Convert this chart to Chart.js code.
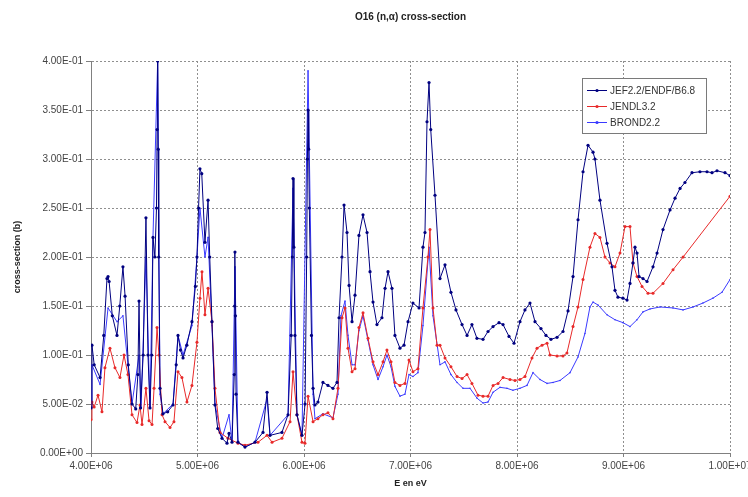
<!DOCTYPE html>
<html>
<head>
<meta charset="utf-8">
<script src="https://cdn.jsdelivr.net/npm/chart.js@4.4.1/dist/chart.umd.min.js"></script>
<style>
  html, body { margin: 0; padding: 0; background: #fff; }
  #wrap { width: 748px; height: 497px; }
</style>
</head>
<body>
<div id="wrap"><canvas id="xsChart" width="748" height="497"></canvas></div>
<script>
// energies in MeV, cross-sections in barn
const jefE = [4.000, 4.009, 4.030, 4.085, 4.120, 4.150, 4.160, 4.170, 4.200, 4.244, 4.270, 4.300, 4.320, 4.350,
  4.385, 4.420, 4.440, 4.451, 4.465, 4.490, 4.516, 4.535, 4.554, 4.570, 4.582, 4.600, 4.615, 4.621, 4.626, 4.631, 4.636, 4.648,
  4.676, 4.720, 4.770, 4.800, 4.817, 4.840, 4.864, 4.900, 4.948, 4.980, 4.995, 5.010, 5.023, 5.040, 5.070, 5.099,
  5.115, 5.136, 5.164, 5.190, 5.230, 5.277, 5.296, 5.324, 5.345, 5.349, 5.352, 5.356, 5.362, 5.380, 5.446, 5.540, 5.615, 5.653,
  5.681, 5.793, 5.850, 5.880, 5.890, 5.897, 5.905, 5.915, 5.934, 5.981, 6.010, 6.025, 6.032, 6.038, 6.044, 6.050, 6.070, 6.085, 6.103, 6.131,
  6.178, 6.225, 6.272, 6.310, 6.329, 6.357, 6.376, 6.404, 6.423, 6.451, 6.479, 6.516, 6.554, 6.592, 6.620, 6.648,
  6.685, 6.732, 6.761, 6.789, 6.826, 6.854, 6.901, 6.939, 6.977, 7.023, 7.080, 7.117, 7.136, 7.155, 7.174, 7.190,
  7.230, 7.277, 7.324, 7.380, 7.427, 7.484, 7.531, 7.577, 7.624, 7.681, 7.728, 7.775, 7.831, 7.869, 7.925, 7.972,
  8.028, 8.075, 8.122, 8.169, 8.225, 8.272, 8.319, 8.376, 8.432, 8.479, 8.526, 8.573, 8.620, 8.667, 8.714, 8.732,
  8.779, 8.845, 8.892, 8.920, 8.948, 8.995, 9.033, 9.061, 9.089, 9.108, 9.127, 9.146, 9.183, 9.221, 9.277, 9.315,
  9.371, 9.437, 9.484, 9.531, 9.577, 9.643, 9.718, 9.784, 9.831, 9.878, 9.953, 10.000];
const jefXS = [0.046, 0.110, 0.090, 0.077, 0.120, 0.178, 0.180, 0.175, 0.140, 0.120, 0.150, 0.190, 0.160, 0.090,
  0.050, 0.045, 0.080, 0.155, 0.046, 0.100, 0.240, 0.100, 0.046, 0.100, 0.220, 0.200, 0.250, 0.330, 0.400, 0.310, 0.200, 0.066,
  0.040, 0.042, 0.049, 0.090, 0.120, 0.105, 0.097, 0.110, 0.134, 0.170, 0.200, 0.250, 0.290, 0.285, 0.215, 0.258,
  0.200, 0.134, 0.049, 0.025, 0.015, 0.010, 0.020, 0.011, 0.080, 0.150, 0.205, 0.140, 0.060, 0.011, 0.006, 0.011, 0.021, 0.062,
  0.018, 0.021, 0.039, 0.120, 0.200, 0.280, 0.210, 0.120, 0.039, 0.018, 0.050, 0.200, 0.300, 0.350, 0.310, 0.250, 0.120, 0.066, 0.049, 0.052,
  0.072, 0.069, 0.066, 0.072, 0.138, 0.200, 0.253, 0.225, 0.171, 0.134, 0.161, 0.222, 0.243, 0.225, 0.185, 0.154,
  0.131, 0.138, 0.168, 0.185, 0.168, 0.120, 0.107, 0.110, 0.134, 0.153, 0.148, 0.210, 0.225, 0.338, 0.378, 0.330,
  0.263, 0.178, 0.192, 0.164, 0.146, 0.131, 0.120, 0.131, 0.117, 0.116, 0.124, 0.129, 0.133, 0.131, 0.119, 0.112,
  0.134, 0.146, 0.153, 0.134, 0.127, 0.120, 0.116, 0.118, 0.124, 0.145, 0.180, 0.238, 0.287, 0.314, 0.307, 0.300,
  0.258, 0.214, 0.190, 0.166, 0.159, 0.158, 0.156, 0.173, 0.194, 0.210, 0.204, 0.180, 0.178, 0.175, 0.190, 0.204,
  0.228, 0.248, 0.260, 0.270, 0.276, 0.286, 0.287, 0.287, 0.286, 0.288, 0.286, 0.283];

const jendlE = [4.000, 4.009, 4.030, 4.066, 4.103, 4.131, 4.178, 4.225, 4.272, 4.310, 4.347, 4.385, 4.432, 4.460,
  4.479, 4.516, 4.545, 4.573, 4.592, 4.620, 4.638, 4.667, 4.695, 4.742, 4.779, 4.817, 4.854, 4.901, 4.948, 4.995,
  5.023, 5.042, 5.070, 5.099, 5.136, 5.164, 5.211, 5.286, 5.380, 5.446, 5.568, 5.653, 5.700, 5.793, 5.869, 5.897,
  5.934, 5.981, 6.009, 6.038, 6.085, 6.131, 6.178, 6.225, 6.272, 6.319, 6.357, 6.385, 6.413, 6.451, 6.479, 6.516,
  6.554, 6.601, 6.648, 6.695, 6.742, 6.779, 6.817, 6.854, 6.901, 6.948, 6.986, 7.023, 7.070, 7.117, 7.164, 7.183,
  7.211, 7.249, 7.277, 7.324, 7.380, 7.437, 7.484, 7.531, 7.577, 7.634, 7.681, 7.728, 7.775, 7.822, 7.869, 7.934,
  7.981, 8.028, 8.075, 8.141, 8.188, 8.235, 8.282, 8.310, 8.376, 8.432, 8.469, 8.526, 8.573, 8.620, 8.685, 8.732,
  8.779, 8.826, 8.873, 8.920, 8.967, 9.014, 9.061, 9.089, 9.127, 9.174, 9.230, 9.277, 9.371, 9.465, 9.560, 10.000];
const jendlXS = [0.034, 0.052, 0.047, 0.059, 0.042, 0.087, 0.107, 0.087, 0.077, 0.100, 0.080, 0.039, 0.031, 0.049,
  0.029, 0.066, 0.033, 0.029, 0.066, 0.128, 0.100, 0.039, 0.032, 0.026, 0.032, 0.083, 0.077, 0.052, 0.069, 0.113,
  0.158, 0.185, 0.141, 0.168, 0.134, 0.066, 0.021, 0.015, 0.010, 0.008, 0.011, 0.018, 0.011, 0.015, 0.032, 0.083,
  0.039, 0.011, 0.010, 0.058, 0.032, 0.035, 0.039, 0.041, 0.035, 0.066, 0.138, 0.148, 0.107, 0.083, 0.086, 0.128,
  0.143, 0.117, 0.093, 0.080, 0.093, 0.105, 0.093, 0.072, 0.069, 0.071, 0.095, 0.083, 0.086, 0.148, 0.200, 0.228,
  0.148, 0.110, 0.110, 0.097, 0.088, 0.078, 0.076, 0.080, 0.071, 0.059, 0.058, 0.058, 0.069, 0.071, 0.077, 0.075,
  0.074, 0.075, 0.078, 0.097, 0.107, 0.110, 0.112, 0.100, 0.099, 0.099, 0.102, 0.129, 0.149, 0.177, 0.210, 0.224,
  0.220, 0.200, 0.194, 0.190, 0.204, 0.231, 0.231, 0.194, 0.180, 0.170, 0.163, 0.163, 0.173, 0.187, 0.200, 0.262];

const brondE = [4.000, 4.009, 4.085, 4.160, 4.244, 4.300, 4.385, 4.451, 4.470, 4.516, 4.554, 4.582, 4.626, 4.648,
  4.676, 4.770, 4.817, 4.864, 4.948, 4.995, 5.023, 5.070, 5.099, 5.136, 5.164, 5.230, 5.296, 5.324, 5.352, 5.380,
  5.446, 5.540, 5.653, 5.681, 5.850, 5.897, 5.934, 5.981, 6.038, 6.085, 6.103, 6.178, 6.272, 6.319, 6.347, 6.385,
  6.413, 6.451, 6.479, 6.516, 6.554, 6.601, 6.648, 6.695, 6.742, 6.779, 6.817, 6.854, 6.901, 6.948, 6.986, 7.023,
  7.070, 7.117, 7.174, 7.211, 7.277, 7.324, 7.380, 7.437, 7.493, 7.559, 7.624, 7.681, 7.728, 7.775, 7.840, 7.906,
  7.962, 8.028, 8.094, 8.150, 8.216, 8.282, 8.338, 8.404, 8.498, 8.573, 8.638, 8.685, 8.714, 8.761, 8.845, 8.920,
  8.995, 9.061, 9.127, 9.183, 9.249, 9.343, 9.465, 9.559, 9.653, 9.746, 9.840, 9.925, 10.000];
const brondXS = [0.050, 0.090, 0.070, 0.148, 0.134, 0.140, 0.050, 0.100, 0.046, 0.200, 0.046, 0.220, 0.400, 0.060,
  0.040, 0.050, 0.120, 0.100, 0.130, 0.200, 0.250, 0.200, 0.220, 0.130, 0.050, 0.015, 0.039, 0.011, 0.190, 0.011,
  0.006, 0.011, 0.055, 0.018, 0.039, 0.270, 0.039, 0.018, 0.390, 0.060, 0.035, 0.040, 0.036, 0.060, 0.140, 0.155,
  0.120, 0.090, 0.090, 0.125, 0.140, 0.115, 0.090, 0.075, 0.088, 0.100, 0.088, 0.068, 0.058, 0.060, 0.080, 0.078,
  0.082, 0.130, 0.210, 0.140, 0.090, 0.093, 0.080, 0.072, 0.066, 0.066, 0.056, 0.051, 0.052, 0.062, 0.067, 0.066,
  0.064, 0.066, 0.069, 0.082, 0.075, 0.071, 0.072, 0.074, 0.082, 0.098, 0.122, 0.149, 0.154, 0.151, 0.141, 0.136,
  0.133, 0.129, 0.136, 0.144, 0.147, 0.149, 0.148, 0.146, 0.149, 0.153, 0.158, 0.164, 0.177];

const seriesNames = ['JEF2.2/ENDF/B6.8', 'JENDL3.2', 'BROND2.2'];
const seriesColors = ['#000080', '#e82a2a', '#3a3aff'];

function toPoints(eList, xsList) {
  return eList.map((e, i) => ({ x: e * 1e6, y: xsList[i] }));
}

// Excel style scientific labels: 4.00E+06
function sci(v) {
  const s = Number(v).toExponential(2).toUpperCase();
  return s.replace(/E([+-])(\d)$/, 'E$10$2');
}

// legend box drawn inside the plot, top right
const boxLegend = {
  id: 'boxLegend',
  afterDraw(chart) {
    const ctx = chart.ctx;
    const x = 582, y = 78, w = 124, h = 55;
    ctx.save();
    ctx.fillStyle = '#fff';
    ctx.fillRect(x, y, w, h);
    ctx.strokeStyle = '#7a7a7a';
    ctx.lineWidth = 1;
    ctx.strokeRect(x + 0.5, y + 0.5, w, h);
    ctx.font = '10px "Liberation Sans", Arial, sans-serif';
    ctx.textBaseline = 'middle';
    ctx.textAlign = 'left';
    seriesNames.forEach((name, i) => {
      const cy = y + 12 + i * 16;
      ctx.strokeStyle = seriesColors[i];
      ctx.beginPath();
      ctx.moveTo(x + 5, cy + 0.5);
      ctx.lineTo(x + 25, cy + 0.5);
      ctx.stroke();
      ctx.fillStyle = seriesColors[i];
      ctx.beginPath();
      ctx.arc(x + 15, cy + 0.5, 1.6, 0, Math.PI * 2);
      ctx.fill();
      ctx.fillStyle = '#333';
      ctx.fillText(name, x + 28, cy + 1);
    });
    ctx.restore();
  }
};

const gridColor = '#8f8f8f';

new Chart(document.getElementById('xsChart'), {
  type: 'line',
  data: {
    datasets: [
      {
        label: seriesNames[0],
        data: toPoints(jefE, jefXS),
        borderColor: seriesColors[0],
        backgroundColor: seriesColors[0],
        borderWidth: 1,
        pointRadius: 1.6,
        pointBorderWidth: 0,
        tension: 0
      },
      {
        label: seriesNames[1],
        data: toPoints(jendlE, jendlXS),
        borderColor: seriesColors[1],
        backgroundColor: seriesColors[1],
        borderWidth: 1,
        pointRadius: 1.5,
        pointBorderWidth: 0,
        tension: 0
      },
      {
        label: seriesNames[2],
        data: toPoints(brondE, brondXS),
        borderColor: seriesColors[2],
        backgroundColor: seriesColors[2],
        borderWidth: 1,
        pointRadius: 0.8,
        pointBorderWidth: 0,
        tension: 0
      }
    ]
  },
  options: {
    responsive: false,
    animation: false,
    layout: { padding: { top: 0, right: 18, left: 0, bottom: 0 } },
    scales: {
      x: {
        type: 'linear',
        min: 4e6,
        max: 1e7,
        afterFit(scale) {
          scale.height = 44;
          scale.paddingLeft = 0;
          scale.paddingRight = 0;
        },
        ticks: {
          stepSize: 1e6,
          color: '#444',
          padding: 3,
          maxRotation: 0,
          font: { family: '"Liberation Sans", Arial, sans-serif', size: 10 },
          callback: (v) => sci(v)
        },
        grid: { color: gridColor, tickColor: '#808080', tickLength: 4, lineWidth: 1 },
        border: { color: '#808080', width: 1, dash: [2, 2] },
        title: {
          display: true,
          text: 'E en eV',
          color: '#222',
          font: { family: '"Liberation Sans", Arial, sans-serif', size: 9, weight: 'bold' },
          padding: { top: 0, bottom: 8 }
        }
      },
      y: {
        min: 0,
        max: 0.4,
        afterFit(scale) {
          scale.width = 91;
        },
        ticks: {
          stepSize: 0.05,
          color: '#444',
          padding: 3,
          font: { family: '"Liberation Sans", Arial, sans-serif', size: 10 },
          callback: (v) => sci(v)
        },
        grid: { color: gridColor, tickColor: '#808080', tickLength: 5, lineWidth: 1 },
        border: { color: '#808080', width: 1, dash: [2, 2] },
        title: {
          display: true,
          text: 'cross-section (b)',
          color: '#222',
          font: { family: '"Liberation Sans", Arial, sans-serif', size: 9, weight: 'bold' },
          padding: { top: 12, bottom: 0 }
        }
      }
    },
    plugins: {
      legend: { display: false },
      tooltip: { enabled: false },
      title: {
        display: true,
        fullSize: false,
        text: 'O16 (n,α) cross-section',
        color: '#222',
        font: { family: '"Liberation Sans", Arial, sans-serif', size: 10, weight: 'bold' },
        padding: { top: 11, bottom: 38 }
      }
    }
  },
  plugins: [boxLegend]
});
</script>
</body>
</html>
